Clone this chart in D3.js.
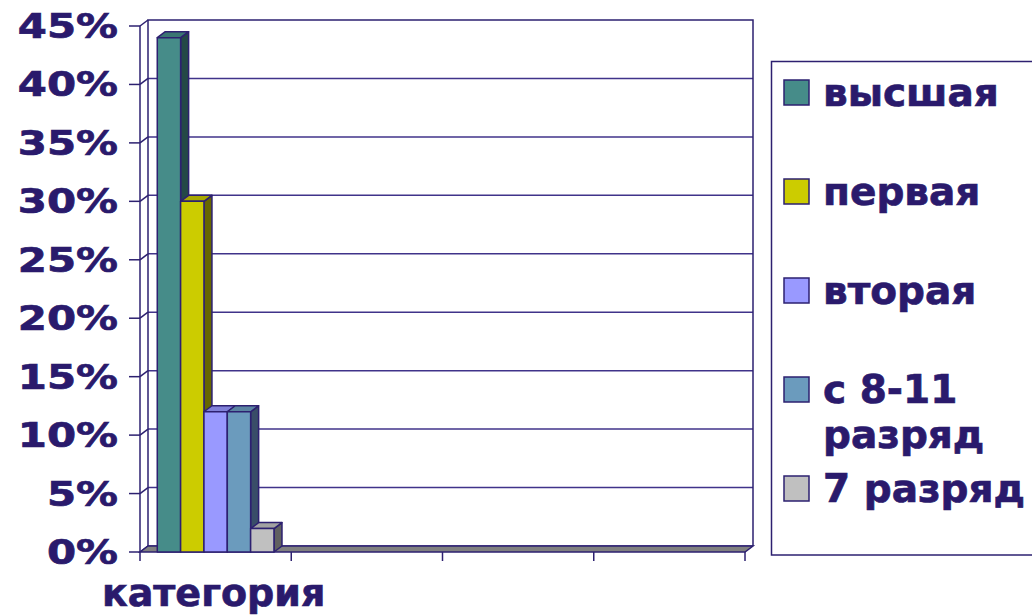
<!DOCTYPE html>
<html><head><meta charset="utf-8">
<script src="https://cdn.jsdelivr.net/npm/d3@7"></script>
<style>
html,body{margin:0;padding:0;background:#fff;}
svg{display:block;}
text{font-family:"DejaVu Sans",Verdana,sans-serif;font-weight:bold;fill:#2a1a6c;stroke:#2a1a6c;stroke-width:0.7px;}
</style></head>
<body>
<svg id="c" width="1032" height="616"></svg>
<script>
// ---- data ----
const categories = ["категория", "", "", ""];
const seriesNames = ["высшая", "первая", "вторая", "с 8-11 разряд", "7 разряд"];
const legendLines = [["высшая"], ["первая"], ["вторая"], ["с 8-11", "разряд"], ["7 разряд"]];
const seriesValues = [
  [0.44, null, null, null],
  [0.30, null, null, null],
  [0.12, null, null, null],
  [0.12, null, null, null],
  [0.02, null, null, null]
];
const yTicks = [0, 0.05, 0.10, 0.15, 0.20, 0.25, 0.30, 0.35, 0.40, 0.45];

// ---- styles ----
const frontColors = ["#468c89", "#cccc00", "#9999ff", "#6b9bbd", "#c0c0c0"];
const sideColors  = ["#244846", "#666600", "#4d4d80", "#394d68", "#606060"];
const topColors   = ["#3a7572", "#a8a800", "#8080d8", "#5b84a2", "#a2a2a2"];
const lineCol = "#2d2070";
const gridCol = "#40338a";

const svg = d3.select("#c");
const x0 = 140, x1 = 745, yBottom = 552, yTop = 26;
const dx = 8, dy = -6;

const y = d3.scaleLinear().domain([0, 0.45]).range([yBottom, yTop]);
const x = d3.scaleBand().domain(d3.range(categories.length)).range([x0, x1]).padding(0);
const xs = d3.scaleBand().domain(d3.range(seriesNames.length)).range([0, x.bandwidth()])
  .paddingInner(0).paddingOuter(0.74);

// back wall gridlines
svg.append("g").selectAll("line").data(yTicks.slice(0, -1)).join("line")
  .attr("x1", x0 + dx).attr("x2", x1 + dx)
  .attr("y1", d => y(d) + dy).attr("y2", d => y(d) + dy)
  .attr("stroke", gridCol).attr("stroke-width", 1.5);
// left wall diagonals
svg.append("g").selectAll("line").data(yTicks).join("line")
  .attr("x1", x0).attr("x2", x0 + dx)
  .attr("y1", d => y(d)).attr("y2", d => y(d) + dy)
  .attr("stroke", lineCol).attr("stroke-width", 1.5);
// back wall border (top and right)
const yMax = y(0.45) + dy, yMin = y(0) + dy;
svg.append("path")
  .attr("d", `M${x0 + dx},${yMin}V${yMax}H${x1 + dx}V${yMin}`)
  .attr("fill", "none").attr("stroke", lineCol).attr("stroke-width", 1.5);
// left wall front edge
svg.append("line").attr("x1", x0).attr("x2", x0).attr("y1", y(0.45)).attr("y2", y(0))
  .attr("stroke", lineCol).attr("stroke-width", 1.5);

// floor
svg.append("path")
  .attr("d", `M${x0},${yBottom}L${x1},${yBottom}L${x1 + dx},${yBottom + dy}L${x0 + dx},${yBottom + dy}Z`)
  .attr("fill", "#808080").attr("stroke", lineCol).attr("stroke-width", 1.5);

// bars
const bars = svg.append("g");
seriesValues.forEach((vals, si) => {
  vals.forEach((v, ci) => {
    if (v == null) return;
    const bx0 = x(ci) + xs(si), bx1 = bx0 + xs.bandwidth();
    const by = y(v), b0 = y(0);
    const g = bars.append("g").attr("stroke", lineCol).attr("stroke-width", 1.5).attr("stroke-linejoin", "round");
    g.append("path").attr("d", `M${bx1},${by}L${bx1 + dx},${by + dy}L${bx1 + dx},${b0 + dy}L${bx1},${b0}Z`)
      .attr("fill", sideColors[si]);
    g.append("path").attr("d", `M${bx0},${by}L${bx0 + dx},${by + dy}L${bx1 + dx},${by + dy}L${bx1},${by}Z`)
      .attr("fill", topColors[si]);
    g.append("rect").attr("x", bx0).attr("y", by).attr("width", bx1 - bx0).attr("height", b0 - by)
      .attr("fill", frontColors[si]);
  });
});

// y axis ticks and labels
const yAxis = svg.append("g");
yAxis.selectAll("line").data(yTicks).join("line")
  .attr("x1", 129).attr("x2", x0).attr("y1", d => y(d)).attr("y2", d => y(d))
  .attr("stroke", lineCol).attr("stroke-width", 1.5);
yAxis.selectAll("text").data(yTicks).join("text")
  .attr("transform", d => `translate(118,${y(d) + 12}) scale(1.25,1)`)
  .attr("text-anchor", "end").attr("font-size", 33.5)
  .text(d => d3.format(".0%")(d));

// x axis ticks & labels
const xt = x.domain().map(d => x(d)).concat([x1]);
svg.append("g").selectAll("line").data(xt).join("line")
  .attr("x1", d => d).attr("x2", d => d).attr("y1", yBottom).attr("y2", yBottom + 9)
  .attr("stroke", lineCol).attr("stroke-width", 1.5);
svg.append("g").selectAll("text").data(categories).join("text")
  .attr("x", (d, i) => x(i) + x.bandwidth() / 2 - 2).attr("y", 606)
  .attr("text-anchor", "middle").attr("font-size", 38)
  .text(d => d);

// legend
svg.append("rect").attr("x", 771.5).attr("y", 61.5).attr("width", 300).attr("height", 493.5)
  .attr("fill", "#fff").attr("stroke", lineCol).attr("stroke-width", 1.5);
const leg = svg.append("g");
const legBase = [106, 205, 304, 403, 502];
legendLines.forEach((lines, i) => {
  leg.append("rect").attr("x", 784).attr("y", legBase[i] - 26).attr("width", 25).attr("height", 25)
    .attr("fill", frontColors[i]).attr("stroke", lineCol).attr("stroke-width", 1.5);
  lines.forEach((t, j) => {
    leg.append("text").attr("x", 823).attr("y", legBase[i] + j * 45).attr("font-size", 39).text(t);
  });
});
</script>
</body></html>
